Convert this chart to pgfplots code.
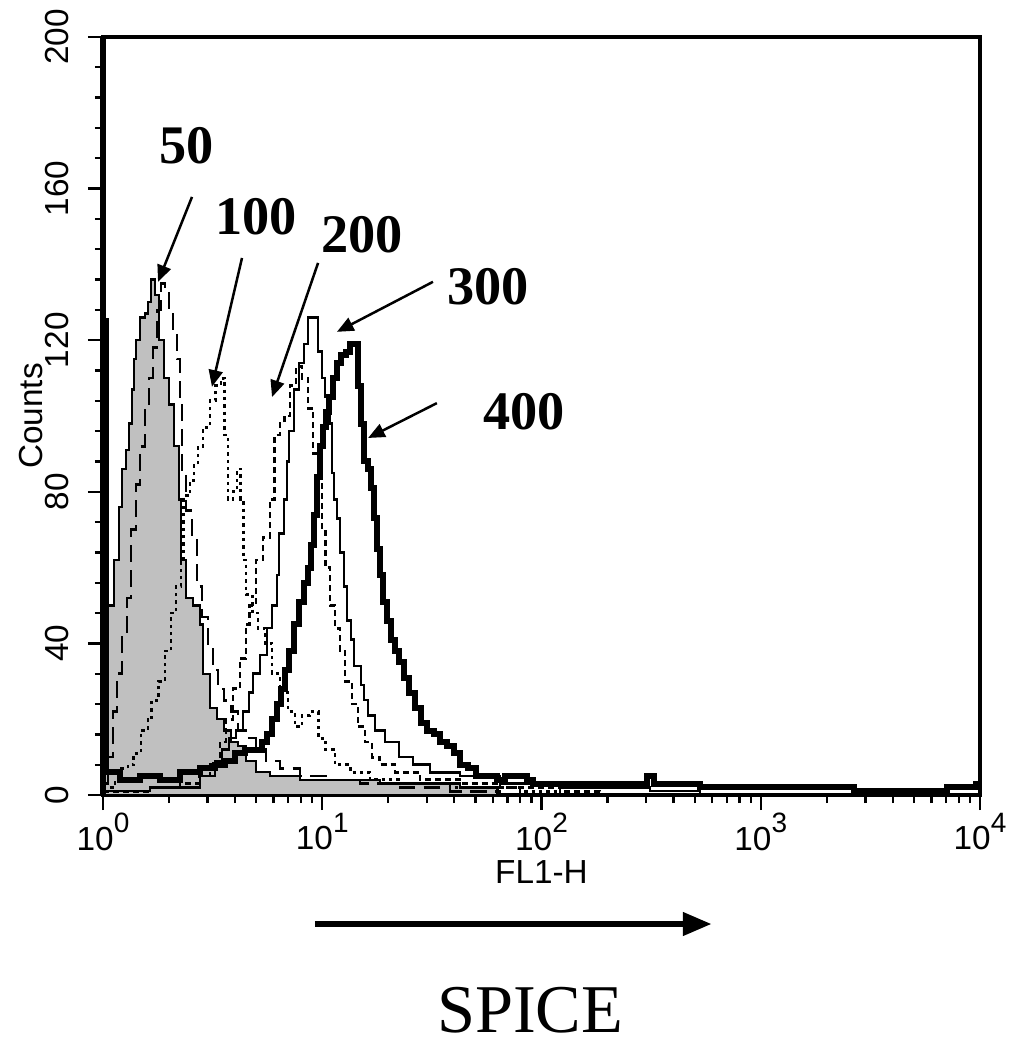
\documentclass[border=0pt]{standalone}
\usepackage{fontspec}
\setmainfont{Liberation Serif}
\newfontfamily\arial{Liberation Sans}
\usepackage{pgfplots}
\pgfplotsset{compat=1.18}
\usetikzlibrary{arrows.meta}
\definecolor{histgray}{RGB}{192,192,192}

% x is log10(FL1-H): 0..4 decades
\begin{document}
\begin{tikzpicture}
\begin{axis}[
    scale only axis, width=263.1pt, height=227.4pt,
    xmin=0, xmax=4, ymin=0, ymax=200,
    clip=false,
    axis line style={line width=1pt},
    tick pos=left, tick align=outside,
    major tick length=4.5pt, minor tick length=2.4pt,
    tick style={black, line width=0.7pt},
    xtick={0,1,2,3,4},
    xticklabels={
      {10\raisebox{5.2pt}{\fontsize{8.4}{8}\selectfont 0}},
      {10\raisebox{5.2pt}{\fontsize{8.4}{8}\selectfont 1}},
      {10\raisebox{5.2pt}{\fontsize{8.4}{8}\selectfont 2}},
      {10\raisebox{5.2pt}{\fontsize{8.4}{8}\selectfont 3}},
      {10\raisebox{5.2pt}{\fontsize{8.4}{8}\selectfont 4}}},
    minor xtick={0.301,0.477,0.602,0.699,0.778,0.845,0.903,0.954,
                 1.301,1.477,1.602,1.699,1.778,1.845,1.903,1.954,
                 2.301,2.477,2.602,2.699,2.778,2.845,2.903,2.954,
                 3.301,3.477,3.602,3.699,3.778,3.845,3.903,3.954},
    ytick={0,40,80,120,160,200}, minor y tick num=4,
    /pgf/number format/assume math mode=true,
    tick label style={font=\arial\fontsize{10}{11}\selectfont},
    xticklabel style={anchor=north, inner sep=0pt, yshift=-0.8pt},
    yticklabel style={rotate=90, anchor=south, inner xsep=0pt, inner ysep=5.5pt},
    xlabel={FL1-H}, ylabel={Counts},
    label style={font=\arial\fontsize{10}{12}\selectfont},
    xlabel style={at={(axis description cs:0.5,-0.0858)}, anchor=north, inner sep=0pt},
    ylabel style={at={(axis description cs:-0.0673,0.5)}, anchor=south, inner sep=0pt},
]
% gray filled control
\addplot[const plot, draw=black, line width=0.7pt, fill=histgray] table[x=lx,y=c] {
lx c
0.000 50
0.050 62
0.073 76
0.087 86
0.105 91
0.119 98
0.133 107
0.142 115
0.151 120
0.169 126
0.192 127
0.205 130
0.219 136
0.237 132
0.255 120
0.278 110
0.301 103
0.324 92
0.347 78
0.356 62
0.379 52
0.410 50
0.442 45
0.456 32
0.488 23
0.520 20
0.552 17
0.584 14
0.616 13
0.652 9
0.698 6
0.762 5
0.899 4
1.081 4
1.263 3
1.446 3
1.628 2
1.800 0
} \closedcycle;
% 50
\addplot[const plot, black, line width=0.8pt, dash pattern=on 5pt off 2.5pt] table[x=lx,y=c] {
lx c
0.000 3
0.023 10
0.046 22
0.064 32
0.087 42
0.109 52
0.128 70
0.151 82
0.169 92
0.192 102
0.210 110
0.228 118
0.246 128
0.265 135
0.283 133
0.301 128
0.319 122
0.338 115
0.351 105
0.360 85
0.379 75
0.406 68
0.429 55
0.452 47
0.479 40
0.502 33
0.525 28
0.552 25
0.584 22
0.616 17
0.652 15
0.698 12
0.743 9
0.807 7
0.899 5
1.035 4
1.172 3
1.355 2
1.583 1
1.811 0
};
% 100
\addplot[const plot, black, line width=0.85pt, dash pattern=on 1pt off 1.2pt] table[x=lx,y=c] {
lx c
0.000 2
0.055 4
0.082 7
0.114 8
0.141 11
0.173 17
0.205 20
0.223 25
0.255 30
0.283 38
0.310 48
0.333 55
0.356 62
0.369 79
0.397 83
0.415 87
0.433 92
0.456 97
0.488 104
0.515 108
0.538 110
0.556 95
0.570 78
0.593 80
0.611 86
0.629 78
0.639 62
0.652 53
0.680 48
0.707 44
0.739 40
0.771 32
0.807 27
0.844 22
0.876 18
0.908 21
0.944 22
0.981 15
1.013 12
1.058 8
1.127 6
1.218 4
1.355 3
1.583 2
1.902 1
2.084 0
};
% 200
\addplot[const plot, black, line width=0.85pt, dash pattern=on 1.8pt off 1.2pt] table[x=lx,y=c] {
lx c
0.000 1
0.214 2
0.351 3
0.442 5
0.488 8
0.534 14
0.561 20
0.593 28
0.625 36
0.652 45
0.670 50
0.698 62
0.730 68
0.762 78
0.784 95
0.807 98
0.826 100
0.853 108
0.880 113
0.908 110
0.935 102
0.958 90
0.981 82
0.999 70
1.013 60
1.035 50
1.058 44
1.081 38
1.104 30
1.136 24
1.163 18
1.195 14
1.227 10
1.263 8
1.332 6
1.446 4
1.628 3
1.811 2
2.084 1
2.267 0
};
% 300
\addplot[const plot, black, line width=0.75pt] table[x=lx,y=c] {
lx c
0.000 1
0.214 2
0.442 5
0.511 9
0.543 12
0.575 15
0.607 17
0.639 22
0.666 27
0.684 32
0.716 37
0.748 44
0.771 50
0.794 58
0.803 69
0.826 78
0.839 88
0.848 96
0.871 107
0.894 114
0.917 119
0.935 126
0.958 126
0.981 117
0.999 110
1.013 105
1.035 98
1.044 85
1.054 78
1.067 73
1.081 64
1.099 55
1.113 46
1.131 41
1.145 34
1.177 29
1.190 25
1.209 21
1.241 17
1.286 14
1.350 10
1.414 8
1.491 6
1.628 5
1.811 3
2.084 2
2.495 1
2.723 0
};
% 400
\addplot[const plot, black, line width=1.8pt] table[x=lx,y=c] {
lx c
0.000 125
0.014 6
0.078 4
0.169 5
0.260 4
0.351 6
0.442 7
0.511 8
0.556 9
0.602 11
0.648 12
0.693 12
0.725 14
0.748 16
0.771 20
0.794 24
0.812 28
0.830 33
0.848 38
0.871 45
0.894 51
0.917 56
0.935 60
0.949 66
0.962 74
0.976 84
0.990 92
1.003 97
1.017 101
1.031 105
1.049 110
1.067 114
1.086 116
1.108 117
1.127 119
1.149 119
1.163 108
1.177 98
1.190 88
1.209 86
1.222 81
1.236 73
1.250 65
1.263 58
1.277 51
1.295 46
1.314 41
1.332 38
1.350 35
1.373 31
1.396 27
1.423 23
1.450 19
1.478 17
1.510 16
1.537 14
1.569 13
1.601 11
1.628 8
1.665 7
1.701 5
1.797 4
1.834 5
1.934 4
1.961 3
2.481 5
2.513 3
2.723 2
3.088 2
3.425 1
3.849 2
3.982 3
4.000 3
};
\draw[line width=1.8pt] (rel axis cs:0,0) -- (rel axis cs:0,1);
% annotations
\begin{scope}[font=\bfseries\fontsize{16.3}{18}\selectfont]
\node at (axis cs:0.383,171.2) {50};
\node at (axis cs:0.698,152.5) {100};
\node at (axis cs:1.181,147.8) {200};
\node at (axis cs:1.756,134.0) {300};
\node at (axis cs:1.920,101.1) {400};
\end{scope}
\begin{scope}[line width=0.75pt, -{Triangle[length=5pt,width=4.2pt]}]
\draw (axis cs:0.406,157.8) -- (axis cs:0.251,135.4);
\draw (axis cs:0.634,141.7) -- (axis cs:0.497,107.7);
\draw (axis cs:0.981,140.4) -- (axis cs:0.771,105.0);
\draw (axis cs:1.505,135.4) -- (axis cs:1.067,122.2);
\draw (axis cs:1.523,103.4) -- (axis cs:1.209,94.2);
\end{scope}
\draw[line width=2pt, -{Triangle[length=8.7pt,width=6.6pt]}]
  (rel axis cs:0.2417,-0.1702) -- (rel axis cs:0.6944,-0.1702);
\node[font=\fontsize{20.5}{24}\selectfont] at (rel axis cs:0.487,-0.2836) {SPICE};
\path (rel axis cs:-0.11745,-0.33641) rectangle (rel axis cs:1.04675,1.04881);
\end{axis}
\end{tikzpicture}
\end{document}
